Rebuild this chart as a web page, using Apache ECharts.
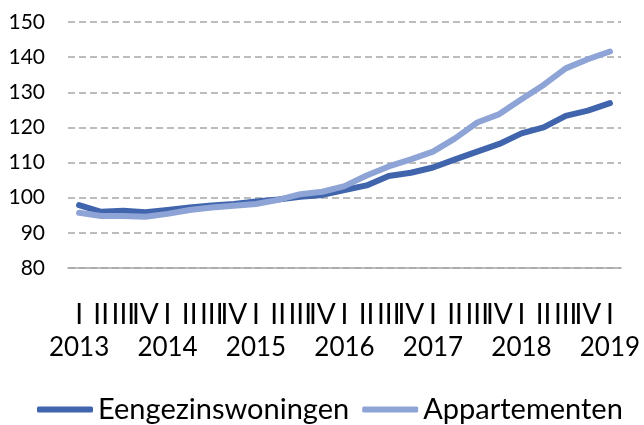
<!DOCTYPE html>
<html>
<head>
<meta charset="utf-8">
<script src="https://cdn.jsdelivr.net/npm/echarts@6/dist/echarts.min.js"></script>
<style>
html,body{margin:0;padding:0;background:#fff;}
#chart{width:644px;height:425px;}
</style>
</head>
<body>
<div id="chart"></div>
<script>
const quarters = ['I','II','III','IV','I','II','III','IV','I','II','III','IV','I','II','III','IV','I','II','III','IV','I','II','III','IV','I'];
const years = ['2013','','','','2014','','','','2015','','','','2016','','','','2017','','','','2018','','','','2019'];
const seriesNames = ['Eengezinswoningen','Appartementen'];
const eengezins = [97.9, 96.0, 96.3, 95.9, 96.5, 97.2, 97.8, 98.2, 98.9, 99.5, 100.3, 100.8, 102.2, 103.5, 106.2, 107.1, 108.6, 110.9, 113.1, 115.3, 118.3, 120.0, 123.3, 124.8, 126.9];
const appartementen = [95.7, 94.8, 94.8, 94.6, 95.4, 96.5, 97.2, 97.7, 98.2, 99.4, 101.0, 101.7, 103.3, 106.3, 108.9, 110.9, 113.1, 116.9, 121.4, 123.8, 128.0, 132.1, 136.8, 139.4, 141.6];
const yTicks = {min: 80, max: 150, interval: 10};

const categories = quarters.map((q, i) => i);
const FONT = 'Lato, "Open Sans", sans-serif';
const chart = echarts.init(document.getElementById('chart'), null, {renderer: 'canvas'});
chart.setOption({
  animation: false,
  backgroundColor: '#ffffff',
  textStyle: {fontFamily: FONT, color: '#000'},
  grid: {left: 68, right: 23, top: 22, bottom: 157, containLabel: false},
  xAxis: {
    type: 'category',
    data: categories,
    boundaryGap: true,
    axisLine: {show: true, lineStyle: {color: '#a6a6a6', width: 1.5}},
    axisTick: {show: false},
    axisLabel: {
      interval: 0,
      hideOverlap: false,
      margin: 23,
      formatter: function (v, i) {
        return '{q|' + quarters[i] + '}\n{y|' + (years[i] || ' ') + '}';
      },
      rich: {
        q: {fontFamily: FONT, fontSize: 28, lineHeight: 38, verticalAlign: 'bottom', color: '#000'},
        y: {fontFamily: FONT, fontSize: 26, lineHeight: 38, color: '#000'}
      }
    },
    splitLine: {show: false}
  },
  yAxis: {
    type: 'value',
    min: yTicks.min, max: yTicks.max, interval: yTicks.interval,
    axisLine: {show: false},
    axisTick: {show: false},
    axisLabel: {fontFamily: FONT, fontSize: 21, color: '#000', margin: 23},
    splitLine: {show: true, lineStyle: {color: '#a6a6a6', width: 1.5, type: [7, 4]}}
  },
  legend: {
    left: 32,
    top: 390,
    itemWidth: 56,
    itemHeight: 6,
    itemGap: 13,
    icon: 'roundRect',
    textStyle: {fontFamily: FONT, fontSize: 29, color: '#000'},
    data: seriesNames
  },
  series: [
    {
      name: seriesNames[0], type: 'line', data: eengezins,
      symbol: 'none', color: '#4065ad',
      lineStyle: {width: 6, color: '#4065ad', cap: 'round', join: 'round'}
    },
    {
      name: seriesNames[1], type: 'line', data: appartementen,
      symbol: 'none', color: '#8ea4d6',
      lineStyle: {width: 6, color: '#8ea4d6', cap: 'round', join: 'round'}
    }
  ]
});
</script>
</body>
</html>
